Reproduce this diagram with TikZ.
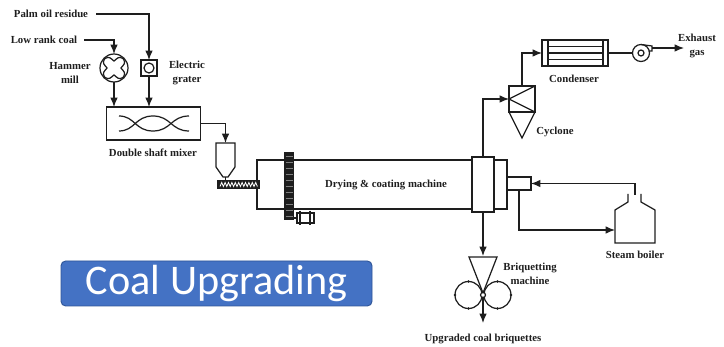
\documentclass[tikz,border=0pt]{standalone}
\usepackage{fontspec}
\setmainfont{Liberation Serif}
\newfontfamily\bannerfont{Carlito}
\usetikzlibrary{arrows.meta}
\def\px{.03cm}
\definecolor{bannerblue}{HTML}{4472C4}
\definecolor{bannerline}{HTML}{2F5597}
\definecolor{inkgrey}{HTML}{1E1E1E}
\tikzset{
  label/.style={font=\fontsize{9.2pt}{11.5pt}\selectfont\bfseries,text=inkgrey,align=center,inner sep=0pt},
  unit/.style={draw,inner sep=0pt,outer sep=0pt,fill=white},
  pipe/.style={->,>={Latex[length=8pt,width=6.5pt]}},
}
\begin{document}
\begin{tikzpicture}[x=.03cm,y=-.03cm,draw=inkgrey,line width=1.05pt]
        \useasboundingbox (0,0) rectangle (724,347);
        % feed
        \node[label] (palm) at (51,14) {Palm oil residue};
        \node[label] (coal) at (44,40) {Low rank coal};
        \coordinate (palmend) at (96,14);
        \coordinate (coalend) at (84,40);
        \node[unit,circle,minimum size=28*\px] (hammer) at (114,68) {};
        \node[unit,minimum size=16*\px] (grater) at (149,68) {};
        \node[unit,circle,minimum size=10*\px] (graterdisc) at (149,68) {};
        \begin{scope}[shift={(114,68)},scale=1.55]
          \draw (-6,-6) .. controls (-3,-8) and (-2,-6) .. (0,-4.5) .. controls (2,-6) and (3,-8) .. (6,-6)
            .. controls (8,-3) and (6,-2) .. (4.5,0) .. controls (6,2) and (8,3) .. (6,6)
            .. controls (3,8) and (2,6) .. (0,4.5) .. controls (-2,6) and (-3,8) .. (-6,6)
            .. controls (-8,3) and (-6,2) .. (-4.5,0) .. controls (-6,-2) and (-8,-3) .. (-6,-6) -- cycle;
        \end{scope}
        \node[label] (hammerlabel) at (70,73) {Hammer\\mill};
        \node[label] (graterlabel) at (187,73) {Electric\\grater};
        % mixer
        \node[unit,minimum width=94*\px,minimum height=33*\px] (mixer) at (153.5,123.5) {};
        \draw (119,116) .. controls (135,116) and (135,131) .. (153,131) .. controls (171,131) and (171,116) .. (189,116);
        \draw (119,131) .. controls (135,131) and (135,116) .. (153,116) .. controls (171,116) and (171,131) .. (189,131);
        \node[label] (mixerlabel) at (153,153) {Double shaft mixer};
        \draw[pipe] (palmend) -| (grater.north);
        \draw[pipe] (coalend) -| (hammer.north);
        \draw[pipe] (hammer.south) -- (hammer.south |- mixer.north);
        \draw[pipe] (grater.south) -- (grater.south |- mixer.north);
        % hopper and screw
        \coordinate (hoppertop) at (225.5,143);
        \draw[fill=white] (216,143) -- (235,143) -- (235,167) -- (228,177) -- (223,177) -- (216,167) -- cycle;
        \draw[pipe] (mixer.east) -| (hoppertop);
        % drum
        \node[unit,minimum width=250*\px,minimum height=49*\px] (drum) at (382,184.5) {};
        \node[label] (drumlabel) at (386,185) {Drying \& coating machine};
        \node[unit,fill=inkgrey,minimum width=41*\px,minimum height=8*\px] (screw) at (238.5,184.5) {};
        \draw[white,line width=.7pt] (220,186.5) \foreach \i in {0,...,10} { -- ++(1.7,-4) -- ++(1.7,4) };
        \draw[line width=1.5pt] (225.5,177) -- (225.5,181);
        \node[unit,fill=inkgrey,minimum width=8*\px,minimum height=66*\px] (gear) at (289,186) {};
        \foreach \i in {0,...,10} \draw[gray,line width=.25pt] (285.5,156+\i*6) -- (292.5,156+\i*6);
        \node[unit,minimum width=17*\px,minimum height=10*\px] (pinion) at (305.5,218) {};
        \draw (300,211) -- (300,225);
        \draw (310,211) -- (310,225);
        \draw (293,218) -- (297,218);
        \node[unit,minimum width=22*\px,minimum height=55*\px] (ring) at (483,184.5) {};
        \node[unit,minimum width=24*\px,minimum height=13*\px] (shaft) at (519,183.5) {};
        % cyclone
        \node[unit,minimum width=26*\px,minimum height=26*\px] (cyclone) at (522,99) {};
        \coordinate (cycloneinlet) at (509,99);
        \coordinate (cyclonetip) at (522,138);
        \draw (cyclone.north east) -- (cycloneinlet) -- (cyclone.south east);
        \draw (cyclone.south west) -- (cyclonetip) -- (cyclone.south east);
        \node[label] (cyclonelabel) at (555,132) {Cyclone};
        \draw[pipe] (ring.north) |- (cycloneinlet);
        % condenser
        \node[unit,minimum width=66*\px,minimum height=26*\px] (condenser) at (575,53) {};
        \draw (548,40) -- (548,66);
        \draw (603,40) -- (603,66);
        \draw (548,46.5) -- (603,46.5);
        \draw (548,53) -- (603,53);
        \draw (548,59.5) -- (603,59.5);
        \node[label] (condenserlabel) at (574,79) {Condenser};
        \draw[pipe] (cyclone.north) |- (condenser.west);
        % fan
        \node[unit,circle,minimum size=17*\px] (fan) at (641,53) {};
        \node[unit,circle,minimum size=6*\px] (fanhub) at (641,53) {};
        \coordinate (fanmouth) at (652,48);
        \draw (641,44.5) -- (652,46) -- (652,51) -- (648.5,51);
        \draw (condenser.east) -- (fan.west);
        \node[label] (exhaust) at (697,46) {Exhaust\\gas};
        \draw[pipe] (fanmouth) -- (684,48);
        % boiler
        \coordinate (boilerinlet) at (615,230);
        \coordinate (boilerneck) at (635,195);
        \draw (628,194) -- (628,202) -- (615,210) -- (615,243) -- (655,243) -- (655,210) -- (641,202) -- (641,194);
        \node[label] (boilerlabel) at (635,255) {Steam boiler};
        \draw[pipe] (boilerneck) |- (shaft.east);
        \draw[pipe] (shaft.south) |- (boilerinlet);
        % briquetting
        \coordinate (funnelmouth) at (483,256);
        \node[unit,circle,minimum size=27*\px] (rollerleft) at (468.5,295) {};
        \node[unit,circle,minimum size=27*\px] (rollerright) at (497.5,295) {};
        \foreach \a in {90,180,270} \fill[inkgrey] (rollerleft.\a) circle[radius=1.4];
        \foreach \a in {90,0,270} \fill[inkgrey] (rollerright.\a) circle[radius=1.4];
        \draw (469,257) -- (497,257) -- (483,293) -- cycle;
        \node[unit,circle,minimum size=5*\px] (nip) at (483,295) {};
        \coordinate (briquetteend) at (483,323);
        \draw[pipe] (ring.south) -- (funnelmouth);
        \draw[pipe] (nip.south) -- (briquetteend);
        \node[label] (briquettelabel) at (530,274) {Briquetting\\machine};
        \node[label] (upgraded) at (483,339) {Upgraded coal briquettes};
        % banner
        \node[draw=bannerline,fill=bannerblue,rounded corners=4pt,line width=.8pt,minimum width=311*\px,minimum height=45*\px,
          text=white,font=\bannerfont\fontsize{36pt}{38pt}\selectfont,inner sep=0pt] (banner) at (216.5,283.5) {Coal Upgrading};
      \end{tikzpicture}
\end{document}
